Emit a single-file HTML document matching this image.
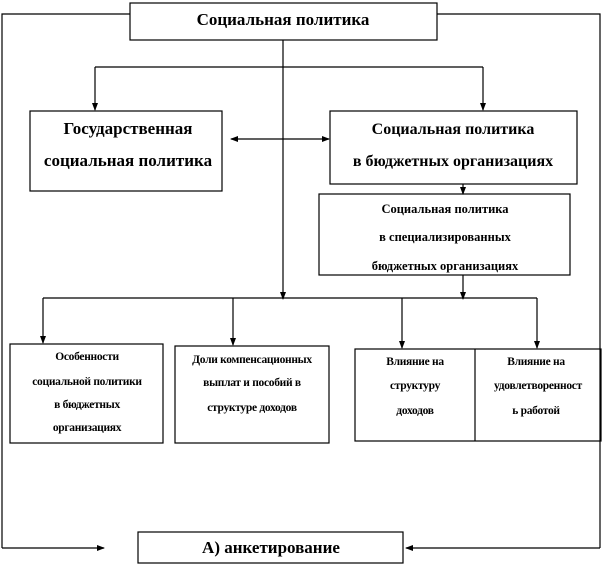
<!DOCTYPE html>
<html><head><meta charset="utf-8"><style>
body{margin:0;background:#fff;}
svg{display:block}
text{font-family:"Liberation Serif",serif;font-weight:bold;fill:#000;text-anchor:middle}
</style></head><body>
<svg width="603" height="566" viewBox="0 0 603 566" xmlns="http://www.w3.org/2000/svg">
<defs><marker id="a" markerWidth="8" markerHeight="8" refX="7" refY="4" orient="auto" markerUnits="userSpaceOnUse"><path d="M0,1 L8,4 L0,7z" fill="#000"/></marker></defs>
<g stroke="#000" stroke-width="1.2" fill="none">
<rect x="130" y="3" width="307" height="37"/>
<rect x="30" y="111" width="192" height="80"/>
<rect x="330" y="111" width="247" height="73"/>
<rect x="319" y="194" width="251" height="81"/>
<rect x="10" y="344" width="153" height="99"/>
<rect x="175" y="346" width="154" height="97"/>
<rect x="355" y="349" width="246" height="92"/>
<line x1="475" y1="349" x2="475" y2="441"/>
<rect x="138" y="532" width="265" height="31"/>
<polyline points="130,14 2,14 2,548"/>
<line x1="2" y1="548" x2="104" y2="548" marker-end="url(#a)"/>
<polyline points="437,14 600,14 600,548"/>
<line x1="600" y1="548" x2="406" y2="548" marker-end="url(#a)"/>
<line x1="283" y1="40" x2="283" y2="299" marker-end="url(#a)"/>
<line x1="95" y1="67" x2="483" y2="67"/>
<line x1="95" y1="67" x2="95" y2="110" marker-end="url(#a)"/>
<line x1="483" y1="67" x2="483" y2="110" marker-end="url(#a)"/>
<line x1="283" y1="139" x2="231" y2="139" marker-end="url(#a)"/>
<line x1="283" y1="139" x2="329" y2="139" marker-end="url(#a)"/>
<line x1="463" y1="184" x2="463" y2="194" marker-end="url(#a)"/>
<line x1="463" y1="275" x2="463" y2="299" marker-end="url(#a)"/>
<line x1="43" y1="298" x2="537" y2="298"/>
<line x1="43" y1="298" x2="43" y2="343" marker-end="url(#a)"/>
<line x1="233" y1="298" x2="233" y2="345" marker-end="url(#a)"/>
<line x1="402" y1="298" x2="402" y2="348" marker-end="url(#a)"/>
<line x1="537" y1="298" x2="537" y2="348" marker-end="url(#a)"/>
</g>
<text x="283" y="25" font-size="17">Социальная политика</text>
<text x="128" y="134" font-size="17">Государственная</text>
<text x="128" y="166" font-size="17">социальная политика</text>
<text x="453" y="134" font-size="16">Социальная политика</text>
<text x="453" y="166" font-size="16">в бюджетных организациях</text>
<text x="445" y="213" font-size="12.5">Социальная политика</text>
<text x="445" y="241" font-size="12.5">в специализированных</text>
<text x="445" y="270" font-size="12.5">бюджетных организациях</text>
<g font-size="11.5" letter-spacing="-0.3">
<text x="87" y="360">Особенности</text>
<text x="87" y="385">социальной политики</text>
<text x="87" y="408">в бюджетных</text>
<text x="87" y="431">организациях</text>
<text x="252" y="363">Доли компенсационных</text>
<text x="252" y="386">выплат и пособий в</text>
<text x="252" y="411">структуре доходов</text>
<text x="415" y="365">Влияние на</text>
<text x="415" y="389">структуру</text>
<text x="415" y="414">доходов</text>
<text x="536" y="365">Влияние на</text>
<text x="538" y="389">удовлетворенност</text>
<text x="536" y="414">ь работой</text>
</g>
<text x="271" y="553" font-size="17">А) анкетирование</text>
</svg>
</body></html>
